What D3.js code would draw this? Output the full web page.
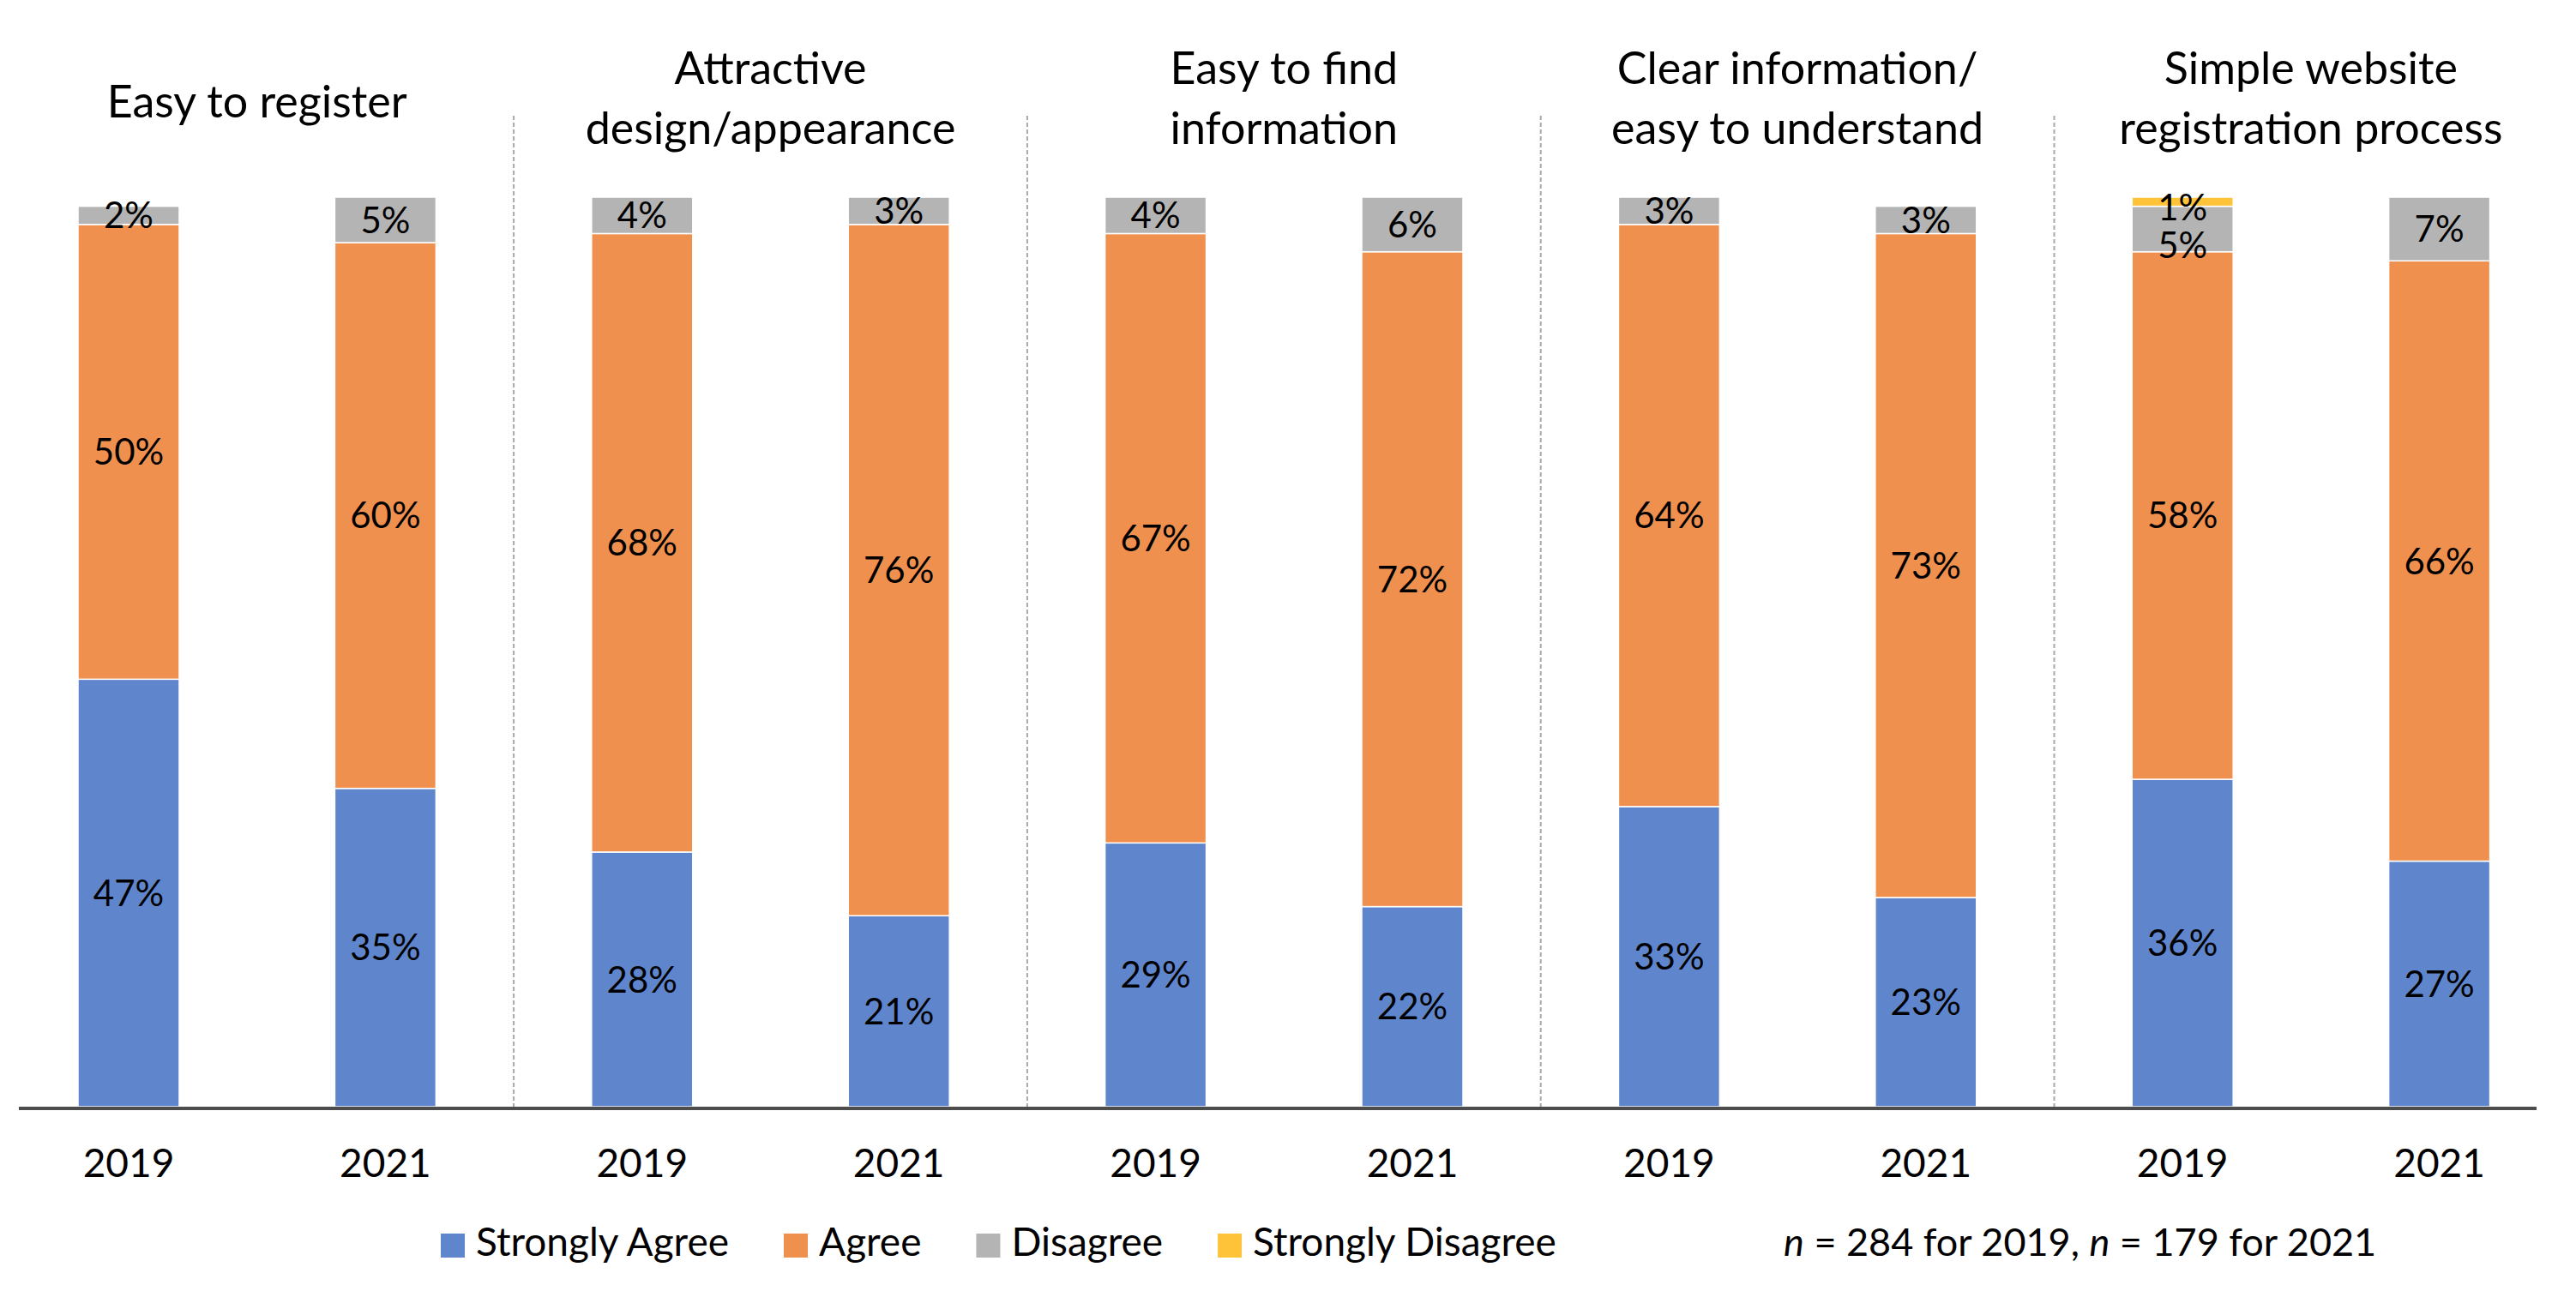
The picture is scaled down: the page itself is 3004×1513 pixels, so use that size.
<!DOCTYPE html>
<html>
<head>
<meta charset="utf-8">
<script src="https://cdn.jsdelivr.net/npm/d3@7"></script>
<style>
  body { margin: 0; background: #fff; }
  text { font-family: Lato, "Liberation Sans", sans-serif; fill: #000; }
</style>
</head>
<body>
<div id="chart"></div>
<script>
// categories
const titles = [
    ["Easy to register"],
    ["Attractive", "design/appearance"],
    ["Easy to find", "information"],
    ["Clear information/", "easy to understand"],
    ["Simple website", "registration process"]
];
const years = ["2019", "2021"];
const seriesNames = ["Strongly Agree", "Agree", "Disagree", "Strongly Disagree"];

// values, one per bar (group x year), in %
const stronglyAgree    = [47, 35, 28, 21, 29, 22, 33, 23, 36, 27];
const agree            = [50, 60, 68, 76, 67, 72, 64, 73, 58, 66];
const disagree         = [ 2,  5,  4,  3,  4,  6,  3,  3,  5,  7];
const stronglyDisagree = [ 0,  0,  0,  0,  0,  0,  0,  0,  1,  0];

const note = "n = 284 for 2019, n = 179 for 2021";

const colors = ["#5f86cd", "#f0904f", "#b4b4b4", "#ffc33a"];

let width = 3004, height = 1513;

let svg = d3.select("#chart").append("svg")
    .attr("width", width)
    .attr("height", height);

svg.append("rect").attr("width", width).attr("height", height).attr("fill", "#fff");

// build rows for the stack
let rows = [];
titles.forEach((t, gi) => {
    years.forEach((yr, yi) => {
        let i = gi * 2 + yi;
        rows.push({
            group: gi,
            year: yr,
            "Strongly Agree": stronglyAgree[i],
            "Agree": agree[i],
            "Disagree": disagree[i],
            "Strongly Disagree": stronglyDisagree[i]
        });
    });
});

let stacked = d3.stack().keys(seriesNames)(rows);

// scales
let x0 = d3.scaleBand()
    .domain(d3.range(titles.length))
    .range([0.3, 2994.3]);

let x1 = d3.scaleBand()
    .domain(years)
    .range([0, x0.bandwidth()])
    .paddingInner(0.606)
    .paddingOuter(0.303);

let y = d3.scaleLinear()
    .domain([0, 100])
    .range([1291, 230]);

let barX = d => x0(d.data.group) + x1(d.data.year);

// dividers between groups
svg.append("g")
    .selectAll("line")
    .data(d3.range(1, titles.length))
    .join("line")
    .attr("x1", d => x0(d))
    .attr("x2", d => x0(d))
    .attr("y1", 135)
    .attr("y2", y(0))
    .attr("stroke", "#a8a8a8")
    .attr("stroke-width", 2)
    .attr("stroke-dasharray", "5,3");

// bars
svg.append("g")
    .selectAll("g")
    .data(stacked)
    .join("g")
    .attr("fill", (d, i) => colors[i])
    .selectAll("rect")
    .data(d => d)
    .join("rect")
    .attr("x", barX)
    .attr("width", x1.bandwidth())
    .attr("y", d => y(d[1]))
    .attr("height", d => y(d[0]) - y(d[1]))
    .attr("stroke", "#fff")
    .attr("stroke-width", d => d[1] > d[0] ? 1.5 : 0);

// data labels, nudged down when they would collide near the top
let labels = [];
rows.forEach((r, ri) => {
    let items = [];
    stacked.forEach(s => {
        let seg = s[ri];
        let v = seg[1] - seg[0];
        if (v > 0) items.push({ v: v, cy: y((seg[0] + seg[1]) / 2), cx: barX(seg) + x1.bandwidth() / 2 });
    });
    items.reverse(); // top first
    let prev = null;
    items.forEach((it, k) => {
        if (k === 0) it.cy = Math.max(it.cy, y(100) + 12);
        else it.cy = Math.max(it.cy, prev + 44);
        prev = it.cy;
        labels.push(it);
    });
});

svg.append("g")
    .selectAll("text")
    .data(labels)
    .join("text")
    .attr("x", d => d.cx)
    .attr("y", d => d.cy)
    .attr("dy", "0.36em")
    .attr("text-anchor", "middle")
    .attr("font-size", 42)
    .text(d => d.v + "%");

// baseline
svg.append("line")
    .attr("x1", 22).attr("x2", 2958)
    .attr("y1", y(0) + 2).attr("y2", y(0) + 2)
    .attr("stroke", "#4d4d4d")
    .attr("stroke-width", 4);

// year labels
svg.append("g")
    .selectAll("text")
    .data(rows)
    .join("text")
    .attr("x", d => x0(d.group) + x1(d.year) + x1.bandwidth() / 2)
    .attr("y", 1373)
    .attr("text-anchor", "middle")
    .attr("font-size", 46)
    .text(d => d.year);

// group titles
let titleG = svg.append("g")
    .selectAll("text")
    .data(titles)
    .join("text")
    .attr("x", (d, i) => x0(i) + x0.bandwidth() / 2)
    .attr("y", d => d.length === 1 ? 137 : 98)
    .attr("text-anchor", "middle")
    .attr("font-size", 52);

titleG.selectAll("tspan")
    .data((d, i) => d.map(line => ({ line: line, x: x0(i) + x0.bandwidth() / 2 })))
    .join("tspan")
    .attr("x", d => d.x)
    .attr("dy", (d, k) => k === 0 ? 0 : 70)
    .text(d => d.line);

// legend
let legend = svg.append("g");
let lx = 514;
seriesNames.forEach((name, i) => {
    legend.append("rect")
        .attr("x", lx).attr("y", 1439)
        .attr("width", 28).attr("height", 28)
        .attr("fill", colors[i]);
    let t = legend.append("text")
        .attr("x", lx + 41).attr("y", 1465)
        .attr("font-size", 46)
        .text(name);
    lx += 41 + t.node().getComputedTextLength() + 64;
});

// sample size note
let nt = legend.append("text")
    .attr("x", 2080).attr("y", 1465)
    .attr("font-size", 45);
note.split(/(n)(?= =)/).forEach(part => {
    if (part === "") return;
    nt.append("tspan")
        .attr("font-style", part === "n" ? "italic" : "normal")
        .text(part);
});
</script>
</body>
</html>
